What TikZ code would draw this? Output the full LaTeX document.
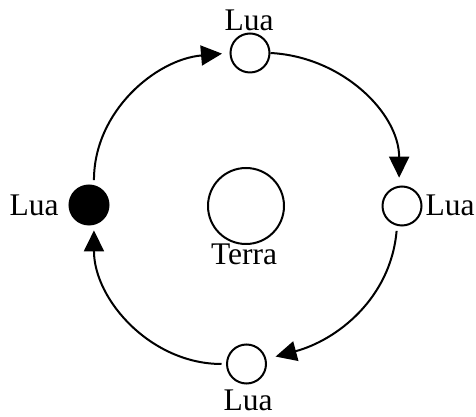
\documentclass[tikz,border=0pt]{standalone}
\usepackage{fontspec}
\setmainfont{Liberation Serif}
\usetikzlibrary{arrows.meta}
\begin{document}
\begin{tikzpicture}[x=1pt,y=1pt,
  moon/.style={circle,draw,line width=2pt,minimum size=39pt,inner sep=0pt},
  earth/.style={circle,draw,line width=2pt,minimum size=76pt,inner sep=0pt},
  lbl/.style={inner sep=0pt,font=\fontsize{31.5}{37}\selectfont},
  orbit/.style={line width=2pt,-{Triangle[length=21pt,width=20pt]}}]
\useasboundingbox (0,0) rectangle (476,417);
\node[moon] (T) at (250,364) {};
\node[moon,fill=black] (L) at (89,212) {};
\node[moon] (R) at (402,211) {};
\node[moon] (B) at (246.5,53) {};
\node[earth] (E) at (246,211) {};
\node[lbl] (tT) at (249,397) {Lua};
\node[lbl] (tL) at (34,212) {Lua};
\node[lbl] (tR) at (450,212) {Lua};
\node[lbl] (tB) at (248,17) {Lua};
\node[lbl] (tE) at (244,163) {Terra};
\draw[orbit,shorten <=5pt,shorten >=7.5pt] (L.76) to[out=90,in=185] (T.west);
\draw[orbit,shorten >=8pt] (T.east) to[out=-3,in=90] (R.98);
\draw[orbit,shorten <=5pt,shorten >=9.5pt] (R.256) to[out=-95,in=15] (B.14);
\draw[orbit,shorten <=4.5pt,shorten >=5.5pt] (B.west) to[out=180,in=-90] (L.284);
\end{tikzpicture}
\end{document}
